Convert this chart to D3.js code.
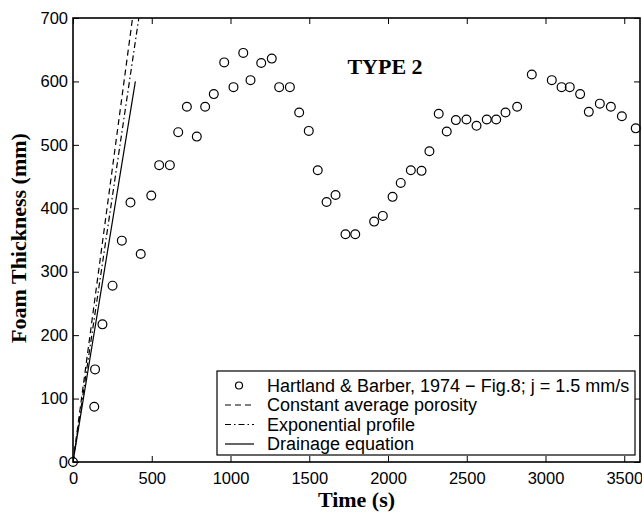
<!DOCTYPE html>
<meta charset="utf-8">
<title>Foam thickness - Type 2</title>
<script src="https://d3js.org/d3.v7.min.js"></script>
<style>
    body { margin: 0; background: #fff; }
    svg { display: block; }
    .tick text { font-family: "Liberation Sans", Arial, sans-serif; font-size: 16.5px; }
</style>
<body>
<script>
    // Data (time in s, thickness in mm)
    const timeData = [0, 135, 140, 187, 251, 310, 365, 430, 497, 547, 615, 668, 723, 786, 839, 894,
        960, 1019, 1081, 1127, 1195, 1262, 1309, 1377, 1436, 1497, 1554, 1610, 1667, 1730, 1792,
        1912, 1967, 2029, 2081, 2145, 2213, 2263, 2322, 2373, 2431, 2498, 2562, 2627, 2687, 2746,
        2820, 2913, 3040, 3102, 3154, 3220, 3275, 3345, 3415, 3485, 3573];
    const thicknessData = [0, 87, 146, 217, 278, 349, 409, 328, 420, 468, 468, 520, 560, 513, 560, 580,
        630, 591, 645, 602, 629, 636, 591, 591, 551, 522, 460, 410, 421, 359, 359,
        379, 388, 418, 440, 460, 459, 490, 549, 521, 539, 540, 530, 540, 540, 551,
        560, 611, 602, 591, 591, 580, 552, 565, 560, 545, 526];

    // model lines: [time, thickness] end points
    const constPorosity = [[0, 0], [378, 700]];
    const expProfile    = [[0, 0], [418, 700]];
    const drainage      = [[0, 0], [396, 600]];

    const xTicks = [0, 500, 1000, 1500, 2000, 2500, 3000, 3500];
    const yTicks = [0, 100, 200, 300, 400, 500, 600, 700];

    const legendLabels = [
        "Hartland & Barber, 1974 \u2212 Fig.8; j = 1.5 mm/s",
        "Constant average porosity",
        "Exponential profile",
        "Drainage equation"
    ];

    const width = 642, height = 514;
    const m = { left: 73, right: 640, top: 18, bottom: 462 };

    const svg = d3.select("body").append("svg")
        .attr("width", width)
        .attr("height", height);

    const x = d3.scaleLinear().domain([0, 3600]).range([m.left, m.right]);
    const y = d3.scaleLinear().domain([0, 700]).range([m.bottom, m.top]);

    svg.append("defs").append("clipPath").attr("id", "plotclip")
        .append("rect")
        .attr("x", m.left).attr("y", m.top)
        .attr("width", m.right - m.left).attr("height", m.bottom - m.top);

    // Axes with inward ticks on all four sides
    const tickLen = 6;
    const fmt = d3.format("d");
    svg.append("g")
        .attr("transform", "translate(0," + m.bottom + ")")
        .call(d3.axisBottom(x).tickValues(xTicks).tickFormat(fmt)
            .tickSizeInner(-tickLen).tickSizeOuter(0).tickPadding(10))
        .call(g => g.select(".domain").remove());
    svg.append("g")
        .attr("transform", "translate(0," + m.top + ")")
        .call(d3.axisTop(x).tickValues(xTicks).tickSizeInner(-tickLen).tickSizeOuter(0).tickFormat(""))
        .call(g => g.select(".domain").remove());
    svg.append("g")
        .attr("transform", "translate(" + m.left + ",0)")
        .call(d3.axisLeft(y).tickValues(yTicks).tickFormat(fmt)
            .tickSizeInner(-tickLen).tickSizeOuter(0).tickPadding(5))
        .call(g => g.select(".domain").remove());
    svg.append("g")
        .attr("transform", "translate(" + m.right + ",0)")
        .call(d3.axisRight(y).tickValues(yTicks).tickSizeInner(-tickLen).tickSizeOuter(0).tickFormat(""))
        .call(g => g.select(".domain").remove());

    svg.selectAll(".tick line").attr("stroke", "#000").attr("stroke-width", 1);
    svg.selectAll(".tick text").attr("fill", "#000");

    // Model lines
    const line = d3.line().x(d => x(d[0])).y(d => y(d[1]));
    const plot = svg.append("g").attr("clip-path", "url(#plotclip)");

    plot.append("path").datum(constPorosity)
        .attr("d", line).attr("fill", "none").attr("stroke", "#000")
        .attr("stroke-width", 1.2).attr("stroke-dasharray", "6,4");
    plot.append("path").datum(expProfile)
        .attr("d", line).attr("fill", "none").attr("stroke", "#000")
        .attr("stroke-width", 1.2).attr("stroke-dasharray", "6,3,1.5,3");
    plot.append("path").datum(drainage)
        .attr("d", line).attr("fill", "none").attr("stroke", "#000")
        .attr("stroke-width", 1.2);

    // Experimental points
    svg.append("g").selectAll("circle")
        .data(timeData)
        .enter()
        .append("circle")
        .attr("cx", d => x(d))
        .attr("cy", (d, i) => y(thicknessData[i]))
        .attr("r", 4.4)
        .attr("fill", "none")
        .attr("stroke", "#000")
        .attr("stroke-width", 1.2);

    // Frame
    svg.append("rect")
        .attr("x", m.left).attr("y", m.top)
        .attr("width", m.right - m.left).attr("height", m.bottom - m.top)
        .attr("fill", "none").attr("stroke", "#000").attr("stroke-width", 1.6);

    const serif = "'Liberation Serif', 'Times New Roman', serif";

    // Title inside plot
    svg.append("text")
        .attr("x", 385).attr("y", 74)
        .attr("text-anchor", "middle")
        .style("font-family", serif)
        .style("font-weight", "bold")
        .style("font-size", "22px")
        .text("TYPE 2");

    // Axis labels
    svg.append("text")
        .attr("x", (m.left + m.right) / 2).attr("y", 507)
        .attr("text-anchor", "middle")
        .style("font-family", serif)
        .style("font-weight", "bold")
        .style("font-size", "22px")
        .text("Time (s)");

    svg.append("text")
        .attr("transform", "translate(26,238) rotate(-90)")
        .attr("text-anchor", "middle")
        .style("font-family", serif)
        .style("font-weight", "bold")
        .style("font-size", "22px")
        .text("Foam Thickness (mm)");

    // Legend
    const legend = svg.append("g");
    legend.append("rect")
        .attr("x", 217).attr("y", 371)
        .attr("width", 418).attr("height", 84)
        .attr("fill", "#fff").attr("stroke", "#000").attr("stroke-width", 1.2);

    const rowY = [385.5, 405, 424.5, 444];
    legend.selectAll("text")
        .data(legendLabels)
        .enter()
        .append("text")
        .attr("x", 267)
        .attr("y", (d, i) => rowY[i] + 6)
        .style("font-family", "'Liberation Sans', Arial, sans-serif")
        .style("font-size", "18px")
        .text(d => d);

    legend.append("circle")
        .attr("cx", 239).attr("cy", rowY[0]).attr("r", 3.5)
        .attr("fill", "none").attr("stroke", "#000").attr("stroke-width", 1.2);
    const dashes = ["6,4", "6,3,1.5,3", null];
    dashes.forEach((da, i) => {
        legend.append("line")
            .attr("x1", 225).attr("x2", 254)
            .attr("y1", rowY[i + 1]).attr("y2", rowY[i + 1])
            .attr("stroke", "#000").attr("stroke-width", 1.2)
            .attr("stroke-dasharray", da);
    });
</script>
</body>
